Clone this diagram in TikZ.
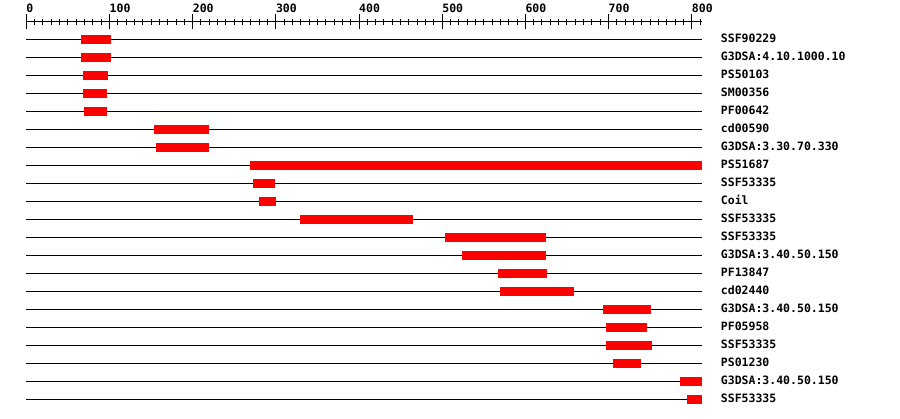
\documentclass[tikz,border=0pt]{standalone}
\usepackage{fontspec}
\setmonofont{DejaVu Sans Mono}
\usetikzlibrary{positioning}
\tikzset{
  track/.style={black,line width=1pt},
  hit/.style={fill=red,draw=none},
  ruler/.style={black,line width=1pt},
  lab/.style={anchor=base west,inner sep=0pt,
              font=\ttfamily\bfseries\fontsize{11.5}{12}\selectfont},
}

\begin{document}
\begin{tikzpicture}[x=1pt,y=-1pt]
  \path[use as bounding box,fill=white] (0,0) rectangle (900,418);

  % sequence coordinates: 0..812 residues
  \begin{scope}[shift={(26.3,0)},x=0.83175pt]
    % ruler
    \draw[ruler] (0,21.5) -- (812,21.5);
    \foreach \m in {10,20,...,810}
      \draw[ruler] (\m,18.5) -- (\m,25);
    \foreach \m in {0,100,...,800}{
      \draw[ruler] (\m,14) -- (\m,29);
      \node[lab] (tick\m) at (\m,12) {\m};
    }

    % tracks
    \foreach \lab/\beg/\fin [count=\i from 0] in {
        SSF90229/65.8/101.8,
        G3DSA:4.10.1000.10/65.8/101.8,
        PS50103/68.2/98.2,
        SM00356/68.2/97,
        PF00642/69.4/97,
        cd00590/153.5/219.7,
        G3DSA:3.30.70.330/155.9/219.7,
        PS51687/269/812,
        SSF53335/272.6/299,
        Coil/279.8/300.2,
        SSF53335/329/465,
        SSF53335/503/625,
        G3DSA:3.40.50.150/523.9/625,
        PF13847/567.2/626,
        cd02440/569.6/658.5,
        G3DSA:3.40.50.150/693.4/751.1,
        PF05958/697/746,
        SSF53335/697/752.3,
        PS01230/705.4/739,
        G3DSA:3.40.50.150/786/812,
        SSF53335/794.4/812}{
      \pgfmathsetmacro{\ry}{39.3+18*\i}
      \draw[track] (0,\ry) -- (812,\ry);
      \fill[hit] (\beg,\ry-4.4) rectangle (\fin,\ry+4.4);
      \node[lab] (row\i) at (834.9,\ry+3.6) {\lab};
    }
  \end{scope}
\end{tikzpicture}
\end{document}
